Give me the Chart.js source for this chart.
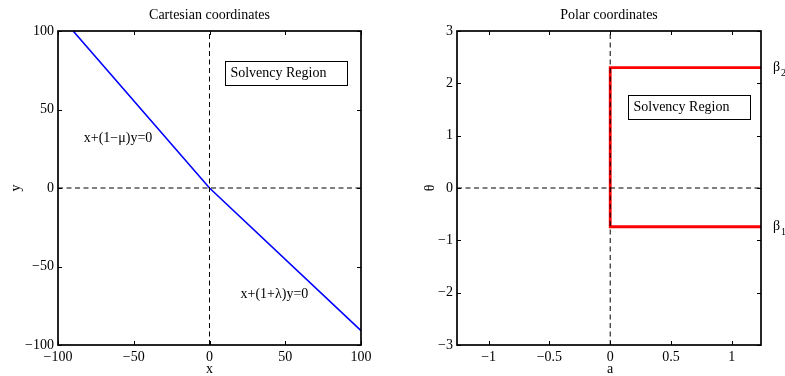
<!DOCTYPE html>
<html>
<head>
<meta charset="utf-8">
<script src="https://cdn.jsdelivr.net/npm/chart.js@4"></script>
<style>
  html, body { margin: 0; padding: 0; background: #fff; }
  #wrap { position: relative; width: 785px; height: 376px; overflow: hidden; }
  canvas { position: absolute; top: 0; }
</style>
</head>
<body>
<div id="wrap">
  <canvas id="cart" width="392" height="376" style="left:0"></canvas>
  <canvas id="polar" width="393" height="376" style="left:392px"></canvas>
</div>
<script>
// Cartesian panel: the boundary line x + (1-mu) y = 0 / x + (1+lambda) y = 0
const cartXTicks = [-100, -50, 0, 50, 100];
const cartYTicks = [-100, -50, 0, 50, 100];
const boundaryX = [-90, 0, 100];
const boundaryY = [100, 0, -90.9];

// Polar panel: a >= 0, beta1 <= theta <= beta2
const polarXTicks = [-1, -0.5, 0, 0.5, 1];
const polarYTicks = [-3, -2, -1, 0, 1, 2, 3];
const polarXLim = [-1.26, 1.24];
const polarYLim = [-3, 3];
const regionA = [1.24, 0, 0, 1.24];
const regionTheta = [2.3, 2.3, -0.74, -0.74];

const FONT = '"Liberation Serif", "Times New Roman", Times, serif';
const TICK_LEN = 4;

function pts(xs, ys) {
  return xs.map((x, i) => ({ x, y: ys[i] }));
}

function fmt(v) {
  return String(v).replace('-', '\u2212');
}

function axis(min, max, ticks, isX, size) {
  return {
    type: 'linear',
    min, max,
    afterBuildTicks: s => { s.ticks = ticks.map(v => ({ value: v })); },
    afterFit: s => { if (isX) s.height = size; else s.width = size; },
    grid: { display: false, drawTicks: false },
    border: { display: false },
    ticks: {
      color: '#000',
      font: { family: FONT, size: 14 },
      padding: 4,
      maxRotation: 0,
      autoSkip: false,
      callback: v => fmt(v)
    }
  };
}

// Frame, inward ticks on all four sides, and text annotations (MATLAB-style axes box)
const boxPlugin = {
  id: 'box',
  afterDraw(chart, args, opts) {
    const { ctx, chartArea: a, scales } = chart;
    const sx = scales.x, sy = scales.y;
    ctx.save();
    ctx.strokeStyle = '#000';
    ctx.lineWidth = 1;
    ctx.beginPath();
    sx.ticks.forEach(t => {
      const px = Math.round(sx.getPixelForValue(t.value)) + 0.5;
      ctx.moveTo(px, a.bottom); ctx.lineTo(px, a.bottom - TICK_LEN);
      ctx.moveTo(px, a.top); ctx.lineTo(px, a.top + TICK_LEN);
    });
    sy.ticks.forEach(t => {
      const py = Math.round(sy.getPixelForValue(t.value)) + 0.5;
      ctx.moveTo(a.left, py); ctx.lineTo(a.left + TICK_LEN, py);
      ctx.moveTo(a.right, py); ctx.lineTo(a.right - TICK_LEN, py);
    });
    ctx.stroke();
    ctx.lineWidth = 1.7;
    ctx.strokeRect(a.left, a.top, a.right - a.left, a.bottom - a.top);

    ctx.fillStyle = '#000';
    ctx.font = '14px ' + FONT;
    ctx.textBaseline = 'middle';

    // title and axis labels
    ctx.textAlign = 'center';
    ctx.fillText(opts.title, (a.left + a.right) / 2, 15);
    ctx.fillText(opts.xLabel, sx.getPixelForValue(0), 369);
    ctx.save();
    ctx.translate(opts.yLabelX, sy.getPixelForValue(0));
    ctx.rotate(-Math.PI / 2);
    ctx.fillText(opts.yLabel, 0, 0);
    ctx.restore();

    // boxed label
    const b = opts.box;
    const bl = sx.getPixelForValue(b.x0), br = sx.getPixelForValue(b.x1);
    const bt = sy.getPixelForValue(b.y1), bb = sy.getPixelForValue(b.y0);
    ctx.lineWidth = 1;
    ctx.strokeRect(Math.round(bl) + 0.5, Math.round(bt) + 0.5, Math.round(br - bl), Math.round(bb - bt));
    ctx.textAlign = 'left';
    ctx.fillText('Solvency Region', bl + 5, (bt + bb) / 2);

    (opts.notes || []).forEach(n => {
      ctx.font = '14px ' + FONT;
      ctx.fillText(n.text, sx.getPixelForValue(n.x), sy.getPixelForValue(n.y));
    });

    // beta labels with subscripts, just past the right edge
    (opts.betas || []).forEach(n => {
      const py = sy.getPixelForValue(n.y);
      ctx.font = '14px ' + FONT;
      ctx.fillText('\u03b2', a.right + 12, py);
      ctx.font = '10px ' + FONT;
      ctx.fillText(n.sub, a.right + 20, py + 6);
    });
    ctx.restore();
  }
};

function dashed(xs, ys) {
  return {
    data: pts(xs, ys),
    borderColor: '#000',
    borderWidth: 1,
    borderDash: [5, 3.5],
    order: 0
  };
}

function makeChart(id, cfg) {
  return new Chart(document.getElementById(id), {
    type: 'scatter',
    data: { datasets: cfg.datasets },
    options: {
      responsive: false,
      animation: false,
      showLine: true,
      layout: { padding: { left: 0, right: cfg.padRight, top: 31, bottom: 0 } },
      elements: { point: { radius: 0, hoverRadius: 0 }, line: { tension: 0 } },
      plugins: { legend: { display: false }, tooltip: { enabled: false }, box: cfg.box },
      scales: {
        x: axis(cfg.xLim[0], cfg.xLim[1], cfg.xTicks, true, 31),
        y: axis(cfg.yLim[0], cfg.yLim[1], cfg.yTicks, false, cfg.yWidth)
      }
    },
    plugins: [boxPlugin]
  });
}

makeChart('cart', {
  xLim: [-100, 100], yLim: [-100, 100],
  xTicks: cartXTicks, yTicks: cartYTicks,
  yWidth: 58, padRight: 31,
  datasets: [
    dashed([-100, 100], [0, 0]),
    dashed([0, 0], [-100, 100]),
    { data: pts(boundaryX, boundaryY), borderColor: '#0000ff', borderWidth: 1.6, order: 1 }
  ],
  box: {
    title: 'Cartesian coordinates', xLabel: 'x', yLabel: 'y', yLabelX: 16,
    box: { x0: 10.5, x1: 91, y0: 65.5, y1: 81 },
    notes: [
      { text: 'x+(1\u2212\u03bc)y=0', x: -83, y: 31.5 },
      { text: 'x+(1+\u03bb)y=0', x: 20.5, y: -68 }
    ]
  }
});

makeChart('polar', {
  xLim: polarXLim, yLim: polarYLim,
  xTicks: polarXTicks, yTicks: polarYTicks,
  yWidth: 65, padRight: 24,
  datasets: [
    dashed(polarXLim, [0, 0]),
    dashed([0, 0], polarYLim),
    { data: pts(regionA, regionTheta), borderColor: '#ff0000', borderWidth: 2.8, order: 1 }
  ],
  box: {
    title: 'Polar coordinates', xLabel: 'a', yLabel: '\u03b8', yLabelX: 38,
    box: { x0: 0.15, x1: 1.15, y0: 1.32, y1: 1.78 },
    betas: [
      { sub: '2', y: 2.3 },
      { sub: '1', y: -0.74 }
    ]
  }
});
</script>
</body>
</html>
